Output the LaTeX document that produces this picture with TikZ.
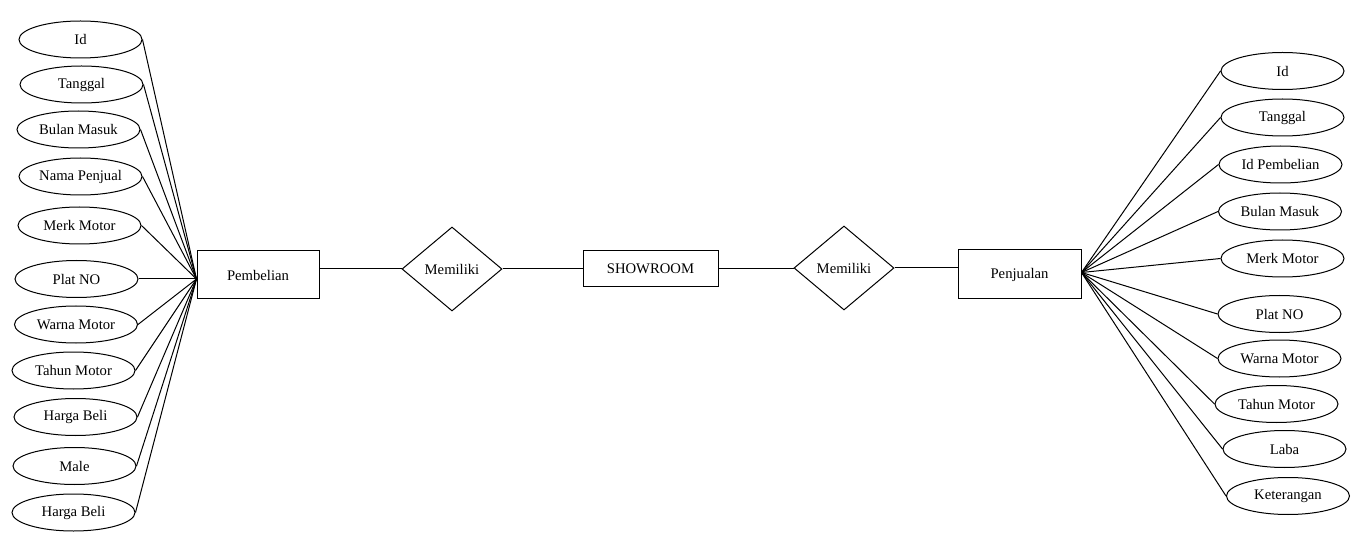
\documentclass[tikz,border=0pt]{standalone}
\usepackage{fontspec}
\setmainfont{Liberation Serif}
\usetikzlibrary{shapes.geometric,calc}
\tikzset{
  attr/.style={draw=black, ellipse, line width=0.75pt, inner sep=0pt,
    minimum width=123*0.75pt, minimum height=37*0.75pt,
    font=\fontsize{11pt}{13pt}\selectfont},
  entity/.style={draw=black, rectangle, line width=0.75pt, inner sep=0pt,
    font=\fontsize{11pt}{13pt}\selectfont},
  rel/.style={draw=black, diamond, line width=0.75pt, inner sep=0pt,
    minimum width=100*0.75pt, minimum height=84*0.75pt,
    font=\fontsize{11pt}{13pt}\selectfont},
  link/.style={draw=black, line width=0.75pt}
}
\begin{document}
\begin{tikzpicture}[x=0.75pt, y=-0.75pt]
\useasboundingbox (0,0) rectangle (1372,556);
% entities
\node[entity, minimum width=122*0.75pt, minimum height=48*0.75pt] (pemb) at (258,275) {Pembelian};
\node[entity, minimum width=135*0.75pt, minimum height=36*0.75pt] (show) at (650.5,269) {SHOWROOM};
\node[entity, minimum width=123*0.75pt, minimum height=49*0.75pt] (penj) at (1019.5,274.5) {Penjualan};
% relationships
\node[rel] (mem1) at (452,269) {Memiliki};
\node[rel] (mem2) at (844,268) {Memiliki};
% convergence points
\coordinate (pin) at ($(pemb.west)+(0,4)$);
\coordinate (qin) at ($(penj.east)+(0,-2)$);
% left attributes
\node[attr] (l1) at (80.5,39.5) {Id};
\node[attr] (l2) at (81.5,84.5) {Tanggal};
\node[attr] (l3) at (78.5,129.5) {Bulan Masuk};
\node[attr] (l4) at (80.5,176.5) {Nama Penjual};
\node[attr] (l5) at (79.5,225.5) {Merk Motor};
\node[attr] (l6) at (76.5,279) {Plat NO};
\node[attr] (l7) at (76,324.5) {Warna Motor};
\node[attr] (l8) at (73.5,370.5) {Tahun Motor};
\node[attr] (l9) at (75.5,417) {Harga Beli};
\node[attr] (l10) at (74.5,466) {Male};
\node[attr] (l11) at (73.5,512.5) {Harga Beli};
% right attributes
\node[attr] (r1) at (1282.5,71) {Id};
\node[attr] (r2) at (1282.5,117.5) {Tanggal};
\node[attr] (r3) at (1280.5,164.5) {Id Pembelian};
\node[attr] (r4) at (1280,211.5) {Bulan Masuk};
\node[attr] (r5) at (1282.5,258.5) {Merk Motor};
\node[attr] (r6) at (1279.5,314) {Plat NO};
\node[attr] (r7) at (1279.5,358.5) {Warna Motor};
\node[attr] (r8) at (1276.5,404) {Tahun Motor};
\node[attr] (r9) at (1284.5,449) {Laba};
\node[attr] (r10) at (1288,496) {Keterangan};
% left links
\foreach \i in {1,...,11} { \draw[link] (l\i.east) -- (pin); }
% right links
\foreach \i in {1,...,10} { \draw[link] (qin) -- (r\i.west); }
% relationship links
\draw[link] (mem1.west -| pemb.east) -- (mem1.west);
\draw[link] (mem1.east) -- (mem1.east -| show.west);
\draw[link] (show.east) -- (show.east -| mem2.west);
\draw[link] (mem2.east) -- (mem2.east -| penj.west);
\end{tikzpicture}
\end{document}
